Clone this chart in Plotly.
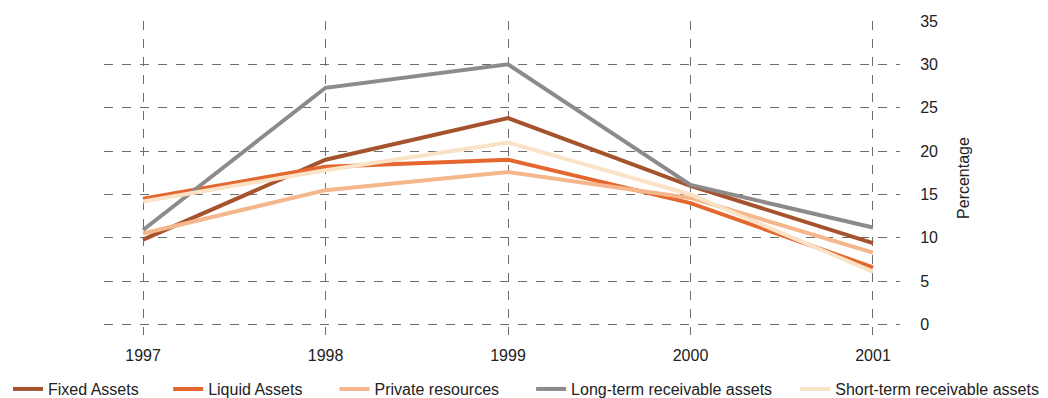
import plotly.graph_objects as go

years = [1997, 1998, 1999, 2000, 2001]
fixed_assets = [9.8, 19.0, 23.8, 16.0, 9.4]
liquid_assets = [14.5, 18.2, 19.0, 14.0, 6.6]
private_resources = [10.5, 15.5, 17.6, 14.6, 8.3]
long_term = [10.9, 27.3, 30.0, 16.1, 11.2]
short_term = [14.2, 17.8, 21.0, 15.0, 6.1]

series = [
    ("Fixed Assets", fixed_assets, "#a5532c"),
    ("Liquid Assets", liquid_assets, "#e3672e"),
    ("Private resources", private_resources, "#f4b68a"),
    ("Long-term receivable assets", long_term, "#8e8a8a"),
    ("Short-term receivable assets", short_term, "#f9e2c6"),
]
legend_x = [-0.004, 0.154, 0.314, 0.503, 0.757]

fig = go.Figure()
legend_names = ["legend", "legend2", "legend3", "legend4", "legend5"]
for (name, vals, col), lg in zip(series, legend_names):
    fig.add_trace(go.Scatter(x=years, y=vals, mode="lines", name=name,
                             line=dict(color=col, width=4), legend=lg))

tick_font = dict(family="Liberation Sans, Arial, sans-serif", size=16, color="#222")
leg_font = dict(family="Liberation Sans, Arial, sans-serif", size=16, color="#222")

layout_legends = {}
for lg, lx in zip(legend_names, legend_x):
    layout_legends[lg] = dict(orientation="h", xref="container", yref="container",
                              x=lx, y=0.023, xanchor="left", yanchor="middle",
                              itemwidth=30, font=leg_font, bgcolor="rgba(0,0,0,0)")

fig.update_layout(
    width=1040, height=390,
    margin=dict(l=96, r=148, t=13, b=63, autoexpand=False),
    plot_bgcolor="white", paper_bgcolor="white",
    font=tick_font,
    xaxis=dict(range=[1996.786, 2001.148], tickmode="array", tickvals=years,
               ticktext=[str(y) for y in years],
               showgrid=True, gridcolor="#6e6e6e", griddash="dash", gridwidth=1,
               zeroline=False, showline=False,
               ticks="outside", ticklen=6, tickcolor="rgba(0,0,0,0)"),
    yaxis=dict(range=[-1.2, 35], side="right", tickmode="array",
               tickvals=[0, 5, 10, 15, 20, 25, 30, 35],
               showgrid=True, gridcolor="#6e6e6e", griddash="dash", gridwidth=1,
               zeroline=False, showline=False,
               ticks="outside", ticklen=16, tickcolor="rgba(0,0,0,0)",
               title=dict(text="Percentage", standoff=20, font=leg_font)),
    showlegend=True,
    **layout_legends,
)

fig.write_html("out.html")
